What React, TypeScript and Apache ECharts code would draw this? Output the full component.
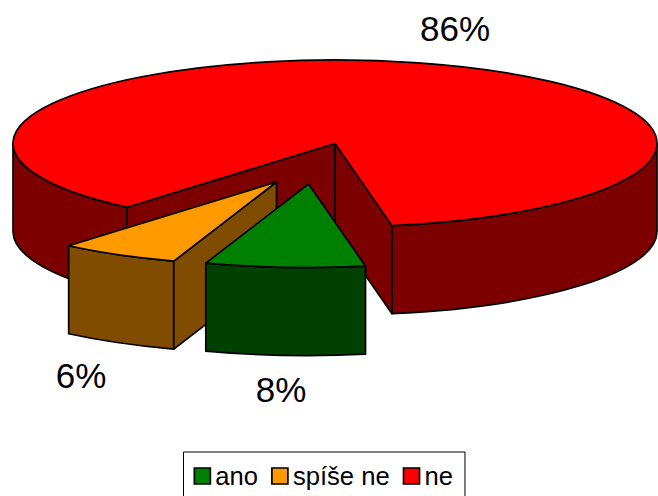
import React, { useEffect, useRef } from "react";
import * as echarts from "echarts";

// Survey answers, in percent, in the order they go round the pie.
const categories = ["ano", "spíše ne", "ne"];
const shares = [8, 6, 86];

const topColors = ["#008000", "#FF9900", "#FF0000"];
const wallColors = ["#004000", "#804D00", "#7D0000"];

// Pulled-out slices move off the disc centre by these amounts.
const explodeX = [-26.5, -58.5, 0];
const explodeY = [40.5, 38.5, 0];

const labelX = [281, 81, 455];
const labelY = [389, 375, 28];

// Projected disc.
const CX = 335;
const CY = 143.5;
const RX = 322;
const RY = 83.5;
const DEPTH = 88;
const START_DEG = 79.8;
const FONT = '"Liberation Sans", Arial, sans-serif';
const LINE = 1.7;

const total = shares.reduce((a, b) => a + b, 0);
const startOf = (i: number) =>
  START_DEG + (shares.slice(0, i).reduce((a, b) => a + b, 0) / total) * 360;

const rad = (d: number) => (d * Math.PI) / 180;

function renderSlice(index: number) {
  return (_params: any, api: any) => {
    const value = api.value(0);
    const a0 = startOf(index);
    const a1 = a0 + (value / total) * 360;
    const cx = CX + explodeX[index];
    const cy = CY + explodeY[index];
    const px = (t: number) => cx + RX * Math.cos(rad(t));
    const py = (t: number, drop = 0) => cy + drop + RY * Math.sin(rad(t));

    const shape = (pathData: string, fill: string) => ({
      type: "path",
      shape: { pathData },
      style: { fill, stroke: "#000", lineWidth: LINE, lineJoin: "round" },
    });
    const children: any[] = [];

    // Rim: only the part on the near half of the disc shows.
    for (const base of [0, 360]) {
      const from = Math.max(a0, base);
      const to = Math.min(a1, base + 180);
      if (to <= from) continue;
      children.push(
        shape(
          `M${px(from)} ${py(from)}A${RX} ${RY} 0 0 1 ${px(to)} ${py(to)}` +
            `L${px(to)} ${py(to, DEPTH)}A${RX} ${RY} 0 0 0 ${px(from)} ${py(from, DEPTH)}Z`,
          wallColors[index]
        )
      );
    }

    // Cut faces, drawn only when they turn towards the viewer.
    const cutFace = (t: number) =>
      shape(
        `M${cx} ${cy}L${px(t)} ${py(t)}L${px(t)} ${py(t, DEPTH)}L${cx} ${cy + DEPTH}Z`,
        wallColors[index]
      );
    if (Math.cos(rad(a0)) < 0) children.push(cutFace(a0));
    if (Math.cos(rad(a1)) > 0) children.push(cutFace(a1));

    // Top of the slice.
    const large = a1 - a0 > 180 ? 1 : 0;
    children.push(
      shape(
        `M${cx} ${cy}L${px(a0)} ${py(a0)}A${RX} ${RY} 0 ${large} 1 ${px(a1)} ${py(a1)}Z`,
        topColors[index]
      )
    );

    children.push({
      type: "text",
      style: {
        text: `${value}%`,
        x: labelX[index],
        y: labelY[index],
        align: "center",
        verticalAlign: "middle",
        fill: "#000",
        font: `35px ${FONT}`,
      },
    });
    return { type: "group", children };
  };
}

export default function App() {
  const ref = useRef<HTMLDivElement>(null);

  useEffect(() => {
    const chart = echarts.init(ref.current!, undefined, { renderer: "svg" });
    // Big slice first so the pulled-out pieces sit in front of it.
    const order = [2, 1, 0];
    chart.setOption({
      animation: false,
      backgroundColor: "#fff",
      legend: {
        data: categories,
        left: 183.5,
        top: 452,
        orient: "horizontal",
        icon: "rect",
        itemWidth: 16,
        itemHeight: 16,
        itemGap: 13,
        padding: [11, 12, 20, 10],
        borderColor: "#000",
        borderWidth: 1,
        selectedMode: false,
        itemStyle: { borderColor: "#000", borderWidth: 1.7 },
        textStyle: { fontFamily: FONT, fontSize: 25.6, color: "#000", padding: [0, 0, 4, 0] },
      },
      series: order.map((i) => ({
        type: "custom",
        name: categories[i],
        coordinateSystem: "none",
        itemStyle: { color: topColors[i] },
        data: [[shares[i]]],
        renderItem: renderSlice(i),
      })),
    });
    return () => chart.dispose();
  }, []);

  return (
    <div
      ref={ref}
      style={{ position: "fixed", left: 0, top: 0, width: 658, height: 496 }}
    />
  );
}
